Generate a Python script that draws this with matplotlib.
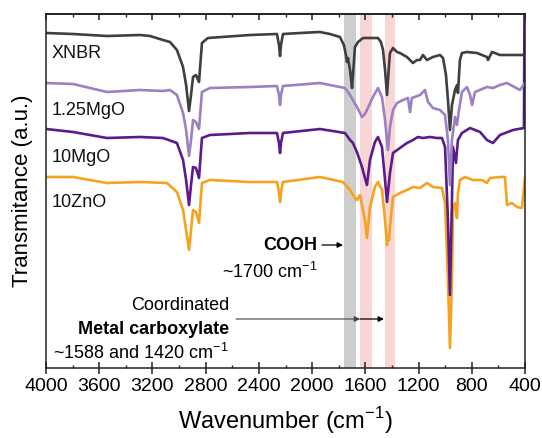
import matplotlib
matplotlib.use("Agg")
import matplotlib.pyplot as plt
from matplotlib.ticker import MultipleLocator

plt.rcParams['font.family'] = ['Liberation Sans', 'DejaVu Sans']
plt.rcParams['mathtext.fontset'] = 'custom'
plt.rcParams['mathtext.rm'] = 'Liberation Sans'
plt.rcParams['mathtext.bf'] = 'Liberation Sans:bold'

# ---- data (wavenumber, transmittance a.u.) ----
xnbr_wn = [4000, 3797, 3542, 3294, 3218, 3121, 3068, 3016, 2970, 2947, 2925, 2910, 2895, 2873, 2850,
           2828, 2783, 2467, 2264, 2249, 2241, 2234, 2219, 2091, 1941, 1866, 1791, 1761, 1746, 1738,
           1730, 1715, 1700, 1693, 1678, 1655, 1617, 1505, 1483, 1467, 1452, 1437, 1422, 1415, 1392,
           1362, 1340, 1287, 1242, 1212, 1189, 1167, 1137, 1092, 1039, 1016, 994, 979, 964, 949, 926,
           911, 904, 889, 874, 836, 761, 686, 678, 648, 588, 513, 400]
xnbr_t = [335, 334, 332, 333, 332, 328, 326, 318, 301, 283, 257, 273, 291, 293, 286,
          325, 330, 333, 334, 323, 312, 323, 334, 335, 336, 334, 331, 323, 313, 306,
          310, 298, 280, 293, 321, 326, 330, 330, 326, 318, 298, 273, 303, 315, 320,
          316, 315, 311, 305, 308, 308, 313, 308, 311, 313, 310, 293, 268, 238, 263, 278,
          283, 275, 308, 315, 316, 315, 311, 308, 316, 313, 313, 313]

mg125_wn = [4000, 3797, 3542, 3294, 3121, 3068, 3016, 2970, 2947, 2925, 2910, 2895, 2873, 2850, 2828,
            2768, 2467, 2264, 2249, 2241, 2234, 2219, 1941, 1791, 1753, 1715, 1663, 1625, 1603, 1588,
            1543, 1505, 1475, 1452, 1430, 1415, 1392, 1362, 1317, 1280, 1264, 1250, 1189, 1152, 1129,
            1092, 1039, 1001, 979, 964, 949, 926, 911, 896, 874, 836, 813, 798, 776, 686, 641, 588,
            535, 438, 400]
mg125_t = [285, 284, 276, 278, 277, 278, 273, 255, 238, 212, 228, 248, 246, 239, 276,
           280, 281, 282, 273, 263, 273, 282, 285, 281, 280, 273, 261, 251, 254, 258,
           271, 280, 271, 248, 218, 241, 258, 265, 268, 270, 256, 270, 273, 278, 266,
           260, 258, 253, 228, 183, 228, 251, 243, 258, 276, 281, 273, 263, 276, 281, 280, 283,
           285, 278, 285]

mg10_wn = [4000, 3797, 3542, 3294, 3121, 3016, 2970, 2947, 2925, 2910, 2895, 2873, 2850, 2828, 2768,
           2467, 2264, 2249, 2241, 2234, 2219, 1941, 1753, 1715, 1693, 1663, 1625, 1603, 1588, 1565,
           1528, 1505, 1475, 1452, 1437, 1415, 1392, 1340, 1287, 1242, 1205, 1167, 1114, 1062, 1024,
           1001, 979, 964, 949, 941, 919, 904, 874, 813, 738, 686, 641, 588, 490, 408, 400]
mg10_t = [239, 236, 230, 231, 230, 225, 208, 188, 163, 183, 201, 200, 190, 230, 233,
          235, 235, 225, 215, 225, 235, 239, 235, 228, 225, 216, 201, 190, 183, 208,
          226, 231, 221, 188, 166, 195, 215, 220, 225, 228, 231, 230, 231, 230, 230,
          221, 148, 73, 168, 221, 205, 228, 235, 240, 236, 228, 225, 233, 238, 240, 470]

zn10_wn = [4000, 3797, 3542, 3294, 3091, 3016, 2970, 2947, 2925, 2910, 2895, 2873, 2850, 2828, 2768,
           2467, 2264, 2249, 2241, 2234, 2219, 1941, 1768, 1715, 1678, 1663, 1640, 1603, 1588, 1565,
           1528, 1505, 1475, 1452, 1437, 1430, 1422, 1415, 1392, 1340, 1287, 1242, 1189, 1137, 1092,
           1024, 1001, 979, 964, 949, 941, 926, 911, 904, 889, 851, 791, 723, 686, 663, 588, 551,
           535, 498, 460, 423, 400]
zn10_t = [191, 191, 185, 186, 185, 176, 158, 138, 118, 138, 158, 156, 145, 185, 188,
          186, 186, 176, 166, 176, 186, 191, 186, 178, 170, 168, 173, 148, 130, 161,
          181, 186, 178, 148, 123, 133, 128, 141, 171, 175, 178, 181, 180, 185, 181,
          180, 165, 88, 20, 88, 158, 165, 150, 175, 188, 191, 188, 188, 185, 190, 191, 191,
          163, 165, 161, 160, 191]

labels = ['XNBR', '1.25MgO', '10MgO', '10ZnO']
colors = ['#3f3f3f', '#9c80c4', '#5c1b8b', '#f5a31e']

cooh_band = (1670, 1760)
carbox_bands = [(1550, 1640), (1380, 1450)]

# ---- figure ----
fig = plt.figure(figsize=(5.42, 4.39), dpi=100)
ax = fig.add_axes([46/542, 70/439, 479/542, 354/439])

ax.axvspan(*cooh_band, color='#cdcdcd', lw=0, zorder=0)
for b in carbox_bands:
    ax.axvspan(*b, color='#f9d5d5', lw=0, zorder=0)

series = [(zn10_wn, zn10_t), (mg10_wn, mg10_t), (mg125_wn, mg125_t), (xnbr_wn, xnbr_t)]
for (w, t), c in zip(series, colors[::-1]):
    ax.plot(w, t, color=c, lw=1.9, solid_joinstyle='round', zorder=2)

ax.set_xlim(4000, 400)
ax.set_ylim(0, 354)
ax.set_yticks([])
ax.xaxis.set_major_locator(MultipleLocator(400))
ax.xaxis.set_minor_locator(MultipleLocator(200))
ax.tick_params(axis='x', which='major', direction='inout', length=8.5, width=1.1,
               labelsize=14, pad=2, color='#222222')
ax.tick_params(axis='x', which='minor', direction='in', length=2.5, width=1.0, color='#222222')
for s in ax.spines.values():
    s.set_linewidth(1.1)
    s.set_color('#222222')

top = ax.secondary_xaxis('top')
top.xaxis.set_major_locator(MultipleLocator(400))
top.xaxis.set_minor_locator(MultipleLocator(200))
top.tick_params(axis='x', which='major', direction='in', length=4, width=1.1, labeltop=False,
                color='#222222')
top.tick_params(axis='x', which='minor', direction='in', length=2.5, width=1.0, color='#222222')
top.spines['top'].set_linewidth(1.1)

# series labels
label_y = [0.892, 0.731, 0.598, 0.470]
for lab, yy in zip(labels, label_y):
    ax.text(0.011, yy, lab, transform=ax.transAxes, ha='left', va='center', fontsize=13,
            color='#111111')

# annotations
ax.text(1963, 123, 'COOH', ha='right', va='center', fontsize=13, fontweight='bold')
ax.annotate('', xy=(1768, 123), xytext=(1926, 123),
            arrowprops=dict(arrowstyle='-|>', color='black', lw=0.9, mutation_scale=8,
                            shrinkA=0, shrinkB=0))
ax.text(1963, 97, r'~1700 cm$^{-1}$', ha='right', va='center', fontsize=13)
ax.text(2625, 64, 'Coordinated', ha='right', va='center', fontsize=13)
ax.text(2625, 39, 'Metal carboxylate', ha='right', va='center', fontsize=13, fontweight='bold')
ax.text(2625, 16, r'~1588 and 1420 cm$^{-1}$', ha='right', va='center', fontsize=13)
ax.annotate('', xy=(1640, 49), xytext=(2572, 49),
            arrowprops=dict(arrowstyle='-|>', color='#444444', lw=0.8, mutation_scale=8,
                            shrinkA=0, shrinkB=0))
ax.annotate('', xy=(1460, 49), xytext=(1640, 49),
            arrowprops=dict(arrowstyle='-|>', color='black', lw=0.9, mutation_scale=8,
                            shrinkA=0, shrinkB=0))

fig.text(285.5/542, 1 - 421/439, r'Wavenumber (cm$^{-1}$)', ha='center', va='center', fontsize=17)
fig.text(23/542, 1 - 191/439, 'Transmitance (a.u.)', ha='center', va='center', fontsize=16,
         rotation=90)

fig.savefig('out.png', dpi=100)
